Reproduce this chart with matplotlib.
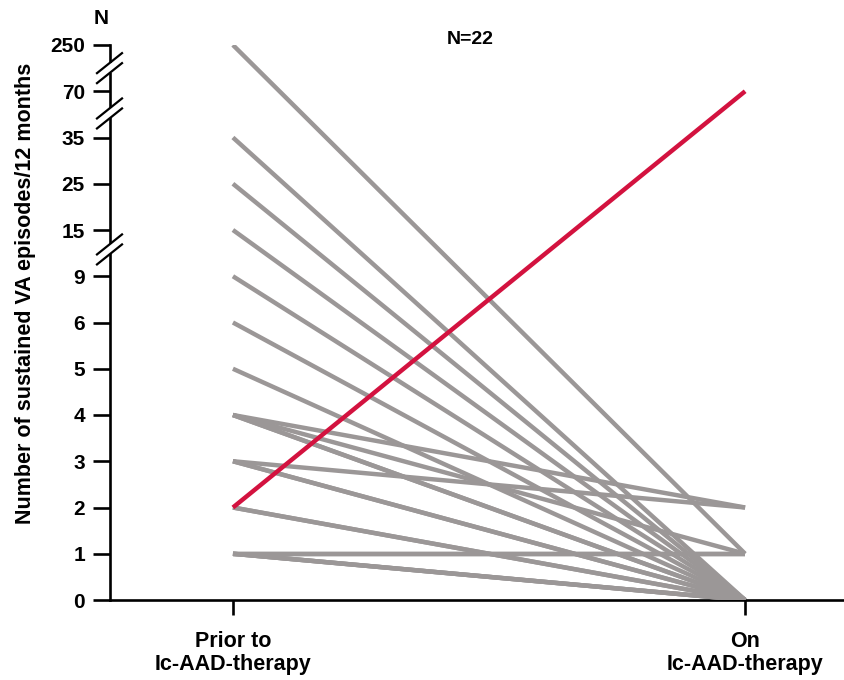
import matplotlib
matplotlib.use("Agg")
import matplotlib.pyplot as plt

# ---- data ----
y_levels = [0, 1, 2, 3, 4, 5, 6, 9, 15, 25, 35, 70, 250]
groups = ["Prior to\nIc-AAD-therapy", "On\nIc-AAD-therapy"]
prior = [250, 35, 25, 15, 9, 6, 5, 4, 4, 4, 4, 3, 3, 3, 2, 2, 2, 1, 1, 1, 1, 1]
on    = [1,   0,  0,  0,  0, 0, 0, 2, 1, 0, 0, 2, 0, 0, 0, 0, 70, 1, 1, 0, 0, 0]
highlight = [False]*16 + [True] + [False]*5
n_label = "N=22"
breaks = [11.5, 10.52, 7.58]   # break positions between tick levels (index units)

pos = {v: i for i, v in enumerate(y_levels)}

W, H = 845, 680
fig = plt.figure(figsize=(W/100, H/100), dpi=100)
plt.rcParams['font.family'] = ['Liberation Sans', 'DejaVu Sans']
ax = fig.add_axes([110/W, (H-600)/H, (845-110)/W, (600-45)/H])
ax.set_xlim(-0.24, 1.195)
ax.set_ylim(0, len(y_levels)-1)

gray = '#9b9797'
red = '#d3123f'
for p, o, h in zip(prior, on, highlight):
    if h:
        continue
    ax.plot([0, 1], [pos[p], pos[o]], color=gray, lw=3.2, solid_capstyle='butt', zorder=3)
for p, o, h in zip(prior, on, highlight):
    if h:
        ax.plot([0, 1], [pos[p], pos[o]], color=red, lw=3.2, solid_capstyle='butt', zorder=4)

for s in ['top', 'right']:
    ax.spines[s].set_visible(False)
for s in ['left', 'bottom']:
    ax.spines[s].set_linewidth(1.9)

ax.set_yticks(range(len(y_levels)))
ax.set_yticklabels([str(v) for v in y_levels], fontsize=15, fontweight='bold')
ax.set_xticks([0, 1])
ax.set_xticklabels(groups, fontsize=15.5, fontweight='bold', linespacing=1.15)
ax.tick_params(axis='y', length=12, width=1.9, pad=6)
ax.tick_params(axis='x', length=11, width=1.9, pad=11)

# axis breaks
xs = ax.get_xlim()[0]
dx = 1/512.0
dy = 1/46.25
for yc in breaks:
    ax.plot([xs, xs], [yc - 5*dy, yc + 5*dy], color='white', lw=4, clip_on=False, zorder=5,
            solid_capstyle='butt')
    for off in (-5, 5):
        ax.plot([xs - 13*dx, xs + 12*dx], [yc + (off - 10)*dy, yc + (off + 10)*dy],
                color='black', lw=1.6, clip_on=False, zorder=6)

fig.text(26/W, 1 - 293/H, "Number of sustained VA episodes/12 months", rotation=90,
         ha='center', va='center', fontsize=15.5, fontweight='bold')
fig.text(101/W, 1 - 18/H, "N", ha='center', va='center', fontsize=15, fontweight='bold')
fig.text(470/W, 1 - 40/H, n_label, ha='center', va='center', fontsize=14, fontweight='bold')

fig.savefig("out.png", dpi=100)
